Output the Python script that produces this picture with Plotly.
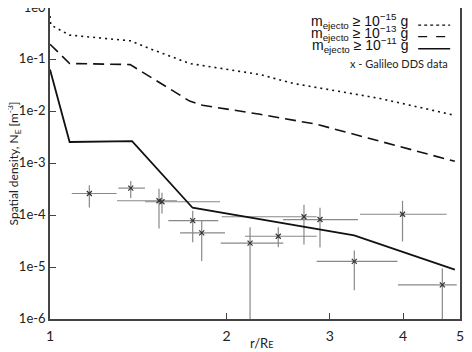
"""
Spatial density of ejecta around the Moon vs. distance, with Galileo DDS data
"""

import plotly.graph_objects as go

# model curves, r/R_E vs spatial density [m^-3]
r_15 = [1.0, 1.003, 1.08, 1.37, 1.48, 1.73, 2.28, 2.60, 3.65, 4.9]
n_15 = [0.7, 0.47, 0.30, 0.233, 0.164, 0.085, 0.052, 0.035, 0.018, 0.0085]

r_13 = [1.0, 1.08, 1.37, 1.73, 1.82, 2.28, 2.85, 3.28, 4.0, 4.9]
n_13 = [0.2, 0.085, 0.081, 0.016, 0.0133, 0.0089, 0.0057, 0.0037, 0.002, 0.0011]

r_11 = [1.0, 1.08, 1.38, 1.75, 3.3, 4.9]
n_11 = [0.065, 0.0026, 0.0027, 1.4e-4, 4.1e-5, 9e-6]

# Galileo DDS measurements with ranges
dds_r = [1.167, 1.373, 1.534, 1.552, 1.751, 1.814, 2.193, 2.450, 2.710, 2.886, 3.990, 3.302, 4.665]
dds_r_lo = [1.089, 1.308, 1.301, 1.452, 1.591, 1.666, 1.954, 2.150, 1.962, 2.496, 3.377, 2.849, 3.920]
dds_r_hi = [1.299, 1.452, 1.646, 1.949, 1.936, 1.988, 2.499, 2.849, 2.849, 3.350, 4.746, 3.912, 4.936]
dds_n = [2.64e-4, 3.35e-4, 1.91e-4, 1.83e-4, 7.9e-5, 4.6e-5, 2.9e-5, 3.95e-5, 9.4e-5, 8.3e-5, 1.05e-4, 1.29e-5, 4.55e-6]
dds_n_lo = [1.42e-4, 2.15e-4, 5.56e-5, 1.08e-4, 3.03e-5, 1.31e-5, 1e-7, 2.43e-5, 2.74e-5, 2.4e-5, 3.13e-5, 3.6e-6, 1e-7]
dds_n_hi = [3.82e-4, 4.62e-4, 3.25e-4, 2.72e-4, 1.23e-4, 7.9e-5, 5.9e-5, 5.9e-5, 1.6e-4, 1.4e-4, 1.91e-4, 2.1e-5, 9.4e-6]

y_ticks = [1e0, 1e-1, 1e-2, 1e-3, 1e-4, 1e-5, 1e-6]
y_labels = ["1e0", "1e-1", "1e-2", "1e-3", "1e-4", "1e-5", "1e-6"]
x_ticks = [1, 2, 3, 4, 5]

fig = go.Figure()

fig.add_trace(go.Scatter(
    x=dds_r, y=dds_n, mode="markers",
    marker=dict(symbol="x-thin", size=5, color="#333", line=dict(width=1.2, color="#333")),
    error_x=dict(type="data", symmetric=False,
                 array=[h - v for h, v in zip(dds_r_hi, dds_r)],
                 arrayminus=[v - l for v, l in zip(dds_r, dds_r_lo)],
                 color="#888", thickness=1.2, width=0),
    error_y=dict(type="data", symmetric=False,
                 array=[h - v for h, v in zip(dds_n_hi, dds_n)],
                 arrayminus=[v - l for v, l in zip(dds_n, dds_n_lo)],
                 color="#888", thickness=1.2, width=0),
))

fig.add_trace(go.Scatter(x=r_15, y=n_15, mode="lines",
                         line=dict(color="#111", width=1.6, dash="2px,4px")))
fig.add_trace(go.Scatter(x=r_13, y=n_13, mode="lines",
                         line=dict(color="#111", width=1.6, dash="11px,6px")))
fig.add_trace(go.Scatter(x=r_11, y=n_11, mode="lines",
                         line=dict(color="#111", width=1.8)))

# legend drawn by hand: text on the left, line sample on the right
legend_rows = [("10<sup>−15</sup>", "dot", 0.957), ("10<sup>−13</sup>", "dash", 0.920),
               ("10<sup>−11</sup>", "solid", 0.881)]
for mass, dash, yy in legend_rows:
    fig.add_annotation(x=0.878, y=yy, xref="paper", yref="paper", xanchor="right", yanchor="middle",
                       text="m<sub>ejecto</sub> ≥ " + mass + " g", showarrow=False,
                       font=dict(family="Liberation Sans", size=14, color="#111"))
    fig.add_shape(type="line", xref="paper", yref="paper", x0=0.898, x1=0.976, y0=yy - 0.012, y1=yy - 0.012,
                  line=dict(color="#111", width=1.4, dash=dash))
fig.add_annotation(x=0.976, y=0.823, xref="paper", yref="paper", xanchor="right", yanchor="middle",
                   text="x - Galileo DDS data", showarrow=False,
                   font=dict(family="Lato", size=11, color="#222"))

# axis titles
fig.add_annotation(x=0.515, y=-0.078, xref="paper", yref="paper", xanchor="center", yanchor="middle",
                   text="r/R<span style='font-size:9px'>E</span>", showarrow=False,
                   font=dict(family="Lato", size=13, color="#222"))
fig.add_annotation(x=-0.088, y=0.5, xref="paper", yref="paper", xanchor="center", yanchor="middle",
                   text="Spatial density, N<sub>E</sub> [m<sup>-3</sup>]", showarrow=False, textangle=-90,
                   font=dict(family="Lato", size=12, color="#222"))

axis_style = dict(type="log", showline=True, linecolor="#444", linewidth=1.5, mirror=True,
                  ticks="inside", ticklen=6, tickcolor="#444", showgrid=False, zeroline=False,
                  automargin=False, tickfont=dict(family="Lato", size=14, color="#222"))

fig.update_xaxes(range=[0, 0.69897], tickvals=x_ticks, ticktext=[str(v) for v in x_ticks],
                 ticklabelstandoff=3, **axis_style)
fig.update_yaxes(range=[-6, 0], tickvals=y_ticks, ticktext=y_labels, ticklabeloverflow="allow",
                 ticklabelshift=-1, **axis_style)
fig.update_yaxes(tickfont_size=13)

# the page puts the figure 8px in from the top-left corner of the window
fig.update_layout(width=464, height=344, showlegend=False,
                  margin=dict(l=42, r=12, t=0, b=33),
                  paper_bgcolor="white", plot_bgcolor="white")

fig.write_html("out.html")
